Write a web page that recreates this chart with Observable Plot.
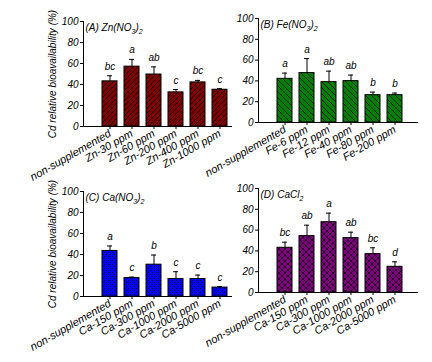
<!DOCTYPE html>
<html>
<head>
<meta charset="utf-8">
<script src="https://cdn.jsdelivr.net/npm/d3@7"></script>
<script src="https://cdn.jsdelivr.net/npm/@observablehq/plot@0.6"></script>
<style>
  body { margin: 0; background: white; }
  #wrap { position: relative; width: 432px; height: 362px; overflow: hidden; }
  #wrap svg { position: absolute; left: 0; top: 0; }
</style>
</head>
<body>
<div id="wrap"></div>
<script>
const yLabel = "Cd relative bioavailability (%)";
const yTicks = [0, 20, 40, 60, 80, 100];

const catsA = ["non-supplemented", "Zn-30 ppm", "Zn-60 ppm", "Zn-200 ppm", "Zn-400 ppm", "Zn-1000 ppm"];
const meanA = [43, 57, 49.5, 32.5, 42, 35];
const sdA = [5.3, 6.9, 7.3, 2.7, 1.9, 1];
const letA = ["bc", "a", "ab", "c", "bc", "c"];

const catsB = ["non-supplemented", "Fe-6 ppm", "Fe-12 ppm", "Fe-40 ppm", "Fe-80 ppm", "Fe-200 ppm"];
const meanB = [42, 47.5, 38.8, 39.8, 26.3, 26.3];
const sdB = [5.5, 14, 10.6, 5.8, 2.9, 2];
const letB = ["a", "a", "ab", "ab", "b", "b"];

const catsC = ["non-supplemented", "Ca-150 ppm", "Ca-300 ppm", "Ca-1000 ppm", "Ca-2000 ppm", "Ca-5000 ppm"];
const meanC = [43.4, 17.6, 30.3, 16.6, 16.6, 8.5];
const sdC = [4.7, 0.9, 9.2, 7, 3.8, 1];
const letC = ["a", "c", "b", "c", "c", "c"];

const catsD = ["non-supplemented", "Ca-150 ppm", "Ca-300 ppm", "Ca-1000 ppm", "Ca-2000 ppm", "Ca-5000 ppm"];
const meanD = [43, 54.2, 67.6, 52.3, 36.9, 24.7];
const sdD = [5.4, 10.5, 8.7, 5.7, 6.1, 4.8];
const letD = ["bc", "ab", "a", "ab", "bc", "d"];

const patterns = {
  patA: `<pattern id="patA" patternUnits="userSpaceOnUse" width="5" height="5">
     <rect width="5" height="5" fill="#800000"/>
     <path d="M0,5 L5,0 M-1,1 L1,-1 M4,6 L6,4" stroke="#000" stroke-width="0.8"/></pattern>`,
  patB: `<pattern id="patB" patternUnits="userSpaceOnUse" width="6" height="6">
     <rect width="6" height="6" fill="#008000"/>
     <path d="M0,0 L6,6 M-1,5 L1,7 M5,-1 L7,1" stroke="#000" stroke-width="0.8"/></pattern>`,
  patC: `<pattern id="patC" patternUnits="userSpaceOnUse" width="4" height="4">
     <rect width="4" height="4" fill="#0000ff"/>
     <rect x="0" y="0" width="1" height="1" fill="#000"/>
     <rect x="2" y="2" width="1" height="1" fill="#000"/></pattern>`,
  patD: `<pattern id="patD" patternUnits="userSpaceOnUse" width="6" height="6">
     <rect width="6" height="6" fill="#800080"/>
     <path d="M0,0 L6,6 M-1,5 L1,7 M5,-1 L7,1 M0,6 L6,0 M-1,1 L1,-1 M5,7 L7,5" stroke="#000" stroke-width="0.7"/></pattern>`
};

function panel({cats, means, sds, letters, pat, title, titleHtml, ml, mr, mt, mb, align, po, ylabel}) {
  const data = cats.map((c, i) => ({c, m: means[i], e: means[i] + sds[i], l: letters[i]}));
  const chart = Plot.plot({
    width: 432, height: 362,
    marginLeft: ml, marginRight: mr, marginTop: mt, marginBottom: mb,
    style: {fontFamily: "'Liberation Sans', Arial, sans-serif", fontSize: "10px", fontStyle: "italic",
            background: "transparent", overflow: "visible", color: "black"},
    x: {domain: cats, paddingInner: 0.34, paddingOuter: po, align, label: null},
    y: {domain: [0, 100], label: null},
    marks: [
      Plot.barY(data, {x: "c", y: "m", fill: `url(#${pat})`, stroke: "black", strokeWidth: 1}),
      Plot.ruleX(data, {x: "c", y1: "m", y2: "e", stroke: "black"}),
      Plot.tickY(data, {x: "c", y: "e", insetLeft: 5, insetRight: 5, stroke: "black"}),
      Plot.text(data, {x: "c", y: "e", text: "l", dy: -6, lineAnchor: "bottom", fontSize: 10}),
      Plot.text([title], {frameAnchor: "top-left", text: d => d, dx: 2, dy: 2, lineAnchor: "top", fontSize: 10}),
      ylabel ? Plot.text([ylabel], {frameAnchor: "left", text: d => d, rotate: -90, dx: -31,
                                    textAnchor: "middle", lineAnchor: "middle", fontSize: 10}) : null,
      Plot.ruleY([0]),
      Plot.frame({anchor: "left"}),
      Plot.axisX({tickRotate: -30, tickSize: 3, tickPadding: 3, label: null, fontSize: 11}),
      Plot.axisY({ticks: yTicks, tickSize: 3, tickPadding: 2, label: null, fontSize: 10})
    ]
  });
  const svg = d3.select(chart);
  svg.insert("defs", ":first-child").html(patterns[pat]);
  svg.selectAll("text").filter(function() { return this.textContent === title; }).html(titleHtml);
  return chart;
}

const sub = s => `<tspan font-size="7" dy="3">${s}</tspan>`;
const back = `<tspan dy="-3">`;
const wrap = document.getElementById("wrap");
wrap.appendChild(panel({cats: catsA, means: meanA, sds: sdA, letters: letA, pat: "patA",
  title: "(A) Zn(NO3)2", titleHtml: `(A) Zn(NO${sub("3")}${back})</tspan>${sub("2")}`,
  ml: 83, mr: 200, mt: 21, mb: 236, align: 0.78, po: 0.45, ylabel: yLabel}));
wrap.appendChild(panel({cats: catsB, means: meanB, sds: sdB, letters: letB, pat: "patB",
  title: "(B) Fe(NO3)2", titleHtml: `(B) Fe(NO${sub("3")}${back})</tspan>${sub("2")}`,
  ml: 258, mr: 14, mt: 18, mb: 240, align: 0.53, po: 0.69, ylabel: null}));
wrap.appendChild(panel({cats: catsC, means: meanC, sds: sdC, letters: letC, pat: "patC",
  title: "(C) Ca(NO3)2", titleHtml: `(C) Ca(NO${sub("3")}${back})</tspan>${sub("2")}`,
  ml: 83, mr: 200, mt: 191, mb: 66, align: 0.78, po: 0.45, ylabel: yLabel}));
wrap.appendChild(panel({cats: catsD, means: meanD, sds: sdD, letters: letD, pat: "patD",
  title: "(D) CaCl2", titleHtml: `(D) CaCl${sub("2")}`,
  ml: 258, mr: 14, mt: 188, mb: 70, align: 0.53, po: 0.69, ylabel: null}));
</script>
</body>
</html>
